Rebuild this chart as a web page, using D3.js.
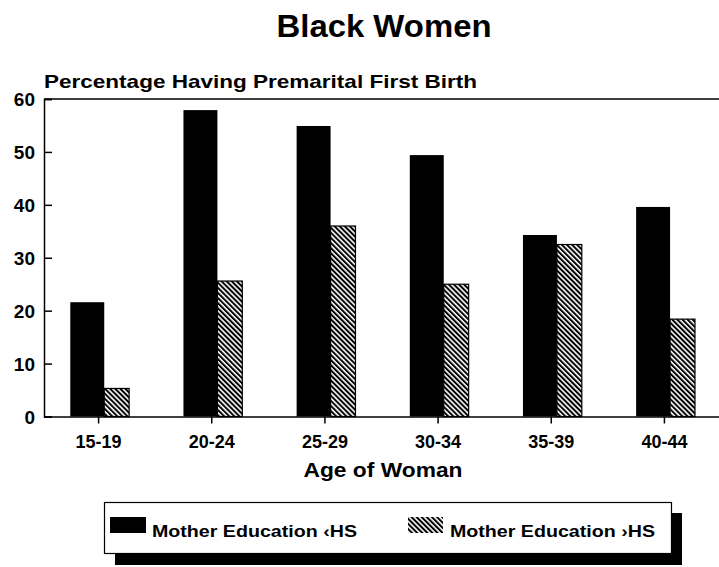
<!DOCTYPE html>
<html>
<head>
<meta charset="utf-8">
<script src="https://cdn.jsdelivr.net/npm/d3@7"></script>
<style>
  body { margin: 0; background: #fff; }
  svg { display: block; font-family: "Liberation Sans", Arial, sans-serif; font-weight: bold; }
</style>
</head>
<body>
<svg id="svg1" width="719" height="567"></svg>
<script>
// données
var ages = ["15-19", "20-24", "25-29", "30-34", "35-39", "40-44"];
var lessHS = [21.6, 57.9, 54.9, 49.4, 34.3, 39.6];   // Mother Education <HS
var moreHS = [5.3, 25.6, 36.0, 25.0, 32.5, 18.4];    // Mother Education >HS
var yTicks = [0, 10, 20, 30, 40, 50, 60];
var seriesNames = ["Mother Education \u2039HS", "Mother Education \u203AHS"];

var svg = d3.select("#svg1");

// motif hachuré
var pat = svg.append("defs").append("pattern")
    .attr("id", "hatch")
    .attr("patternUnits", "userSpaceOnUse")
    .attr("width", 3.6).attr("height", 3.6)
    .attr("patternTransform", "rotate(-45)");
pat.append("rect").attr("width", 3.6).attr("height", 3.6).attr("fill", "#fff");
pat.append("rect").attr("x", 0).attr("width", 2).attr("height", 3.6).attr("fill", "#000");

var plot = {left: 44, right: 719, top: 99, bottom: 416.5};

var xScale = d3.scaleBand().domain(ages).range([42, 721]);
var yScale = d3.scaleLinear().domain([0, 60]).range([plot.bottom, plot.top]);

// titre
svg.append("text")
    .attr("x", 384).attr("y", 37)
    .attr("text-anchor", "middle")
    .style("font-size", "32px")
    .attr("textLength", 215).attr("lengthAdjust", "spacingAndGlyphs")
    .text("Black Women");

svg.append("text")
    .attr("x", 44).attr("y", 88)
    .style("font-size", "19px")
    .attr("textLength", 433).attr("lengthAdjust", "spacingAndGlyphs")
    .text("Percentage Having Premarital First Birth");

// cadre du haut
svg.append("line")
    .attr("x1", plot.left).attr("x2", plot.right)
    .attr("y1", plot.top).attr("y2", plot.top)
    .attr("stroke", "#000").attr("stroke-width", 1.5);

// axe y
var yAxis = g => g
    .attr("transform", `translate(${plot.left}, 0)`)
    .call(d3.axisRight(yScale).tickValues(yTicks).tickSize(8).tickFormat(""))
    .call(g => g.select(".domain").attr("stroke-width", 1.5))
    .call(g => g.selectAll(".tick line").attr("stroke-width", 1.5));
svg.append("g").call(yAxis);

svg.selectAll(".ylab")
    .data(yTicks)
    .enter()
    .append("text")
    .attr("class", "ylab")
    .attr("x", 35)
    .attr("y", d => yScale(d) + 7)
    .attr("text-anchor", "end")
    .style("font-size", "19px")
    .text(d => d);

// axe x
var xAxis = g => g
    .attr("transform", `translate(0, ${plot.bottom})`)
    .call(d3.axisBottom(xScale).tickSize(7).tickSizeOuter(0).tickFormat(""))
    .call(g => g.select(".domain").attr("d", `M${plot.left},0.5H${plot.right}`).attr("stroke-width", 1.5))
    .call(g => g.selectAll(".tick line").attr("stroke-width", 1.5));
svg.append("g").call(xAxis);

svg.selectAll(".xlab")
    .data(ages)
    .enter()
    .append("text")
    .attr("class", "xlab")
    .attr("x", d => xScale(d) + xScale.bandwidth() / 2)
    .attr("y", 448)
    .attr("text-anchor", "middle")
    .style("font-size", "18px")
    .text(d => d);

svg.append("text")
    .attr("x", 383).attr("y", 477)
    .attr("text-anchor", "middle")
    .style("font-size", "20px")
    .attr("textLength", 159).attr("lengthAdjust", "spacingAndGlyphs")
    .text("Age of Woman");

// barres
var bw = xScale.bandwidth();
var cx = d => xScale(d) + bw / 2;
var split = 0.05 * bw;      // séparation entre les deux barres
var blackW = 0.30 * bw, hatchW = 0.22 * bw;

svg.selectAll(".bar1")
    .data(ages)
    .enter()
    .append("rect")
    .attr("class", "bar1")
    .attr("x", d => cx(d) + split - blackW)
    .attr("y", (d, i) => yScale(lessHS[i]))
    .attr("width", blackW)
    .attr("height", (d, i) => yScale(0) - yScale(lessHS[i]))
    .attr("fill", "#000");

svg.selectAll(".bar2")
    .data(ages)
    .enter()
    .append("rect")
    .attr("class", "bar2")
    .attr("x", d => cx(d) + split)
    .attr("y", (d, i) => yScale(moreHS[i]))
    .attr("width", hatchW)
    .attr("height", (d, i) => yScale(0) - yScale(moreHS[i]))
    .attr("fill", "url(#hatch)")
    .attr("stroke", "#000")
    .attr("stroke-width", 1.2);

// légende
var lg = svg.append("g");
lg.append("rect")
    .attr("x", 115).attr("y", 513).attr("width", 567).attr("height", 52)
    .attr("fill", "#000");
lg.append("rect")
    .attr("x", 104.5).attr("y", 502.5).attr("width", 567).attr("height", 51)
    .attr("fill", "#fff").attr("stroke", "#000").attr("stroke-width", 1.2);

var legX = [110, 408];
lg.selectAll(".sw")
    .data(seriesNames)
    .enter()
    .append("rect")
    .attr("x", (d, i) => legX[i])
    .attr("y", 517)
    .attr("width", (d, i) => i === 0 ? 36 : 35)
    .attr("height", 16)
    .attr("fill", (d, i) => i === 0 ? "#000" : "url(#hatch)");

lg.selectAll(".lt")
    .data(seriesNames)
    .enter()
    .append("text")
    .attr("x", (d, i) => legX[i] + 42)
    .attr("y", 537)
    .style("font-size", "17px")
    .attr("textLength", 205).attr("lengthAdjust", "spacingAndGlyphs")
    .text(d => d);
</script>
</body>
</html>
